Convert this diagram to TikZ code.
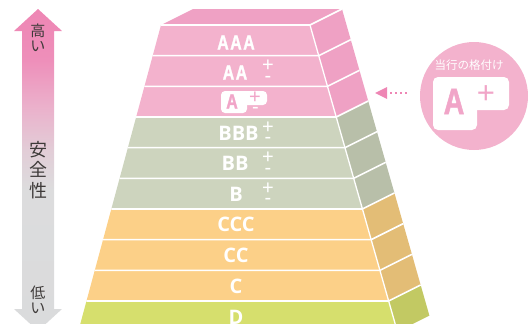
\documentclass[tikz,border=0pt]{standalone}
\usepackage{fontspec}
\setmainfont{Open Sans}
\newfontfamily\condfont[FakeStretch=0.78,FakeBold=1.2,LetterSpace=7]{Liberation Sans}
\newfontfamily\rowfont{Open Sans}
\newfontfamily\jpfont{Noto Sans CJK JP}
\newfontfamily\pmfont{Liberation Sans}
\usetikzlibrary{arrows.meta}
\definecolor{pinkF}{HTML}{F3B2CD}
\definecolor{pinkS}{HTML}{EFA1C4}
\definecolor{greenF}{HTML}{CDD4BE}
\definecolor{greenS}{HTML}{B8BFA9}
\definecolor{orangeF}{HTML}{FCD088}
\definecolor{orangeS}{HTML}{E3BD76}
\definecolor{limeF}{HTML}{D6DF6D}
\definecolor{limeS}{HTML}{C2C963}
\definecolor{arrowpink}{HTML}{EE86B4}
\definecolor{badgepink}{HTML}{F1A5C8}
\definecolor{jptext}{HTML}{3E3A39}
\definecolor{c1}{HTML}{EE86B4}
\definecolor{c2}{HTML}{EE8FBA}
\definecolor{c3}{HTML}{EBB0CB}
\definecolor{c4}{HTML}{E2CDD7}
\definecolor{c5}{HTML}{DCDCDD}
\definecolor{c6}{HTML}{DADBDC}
\pgfdeclareverticalshading{safety}{100bp}{color(0bp)=(c6); color(25bp)=(c6); color(47bp)=(c5); color(53bp)=(c4); color(60bp)=(c3); color(67bp)=(c2); color(75bp)=(c1); color(100bp)=(c1)}
\tikzset{
  pinklbl/.style={text=white, font=\condfont\bfseries\fontsize{20.5}{20.5}\selectfont, inner sep=0pt},
  rowlbl/.style={text=white, font=\rowfont\bfseries\fontsize{20}{20}\selectfont, inner sep=0pt},
  pmlbl/.style={text=white, font=\pmfont\fontsize{20}{20}\selectfont, inner sep=0pt},
  jplbl/.style={text=jptext, align=center, inner sep=0pt},
  sep/.style={white, line width=1.6pt},
}
\begin{document}
\begin{tikzpicture}[x=1pt,y=-1pt]
\useasboundingbox (0,0) rectangle (531,324);
\clip (0,0) rectangle (531,324);
% top face
\fill[pinkS] (161,25) -- (193,9) -- (342,9) -- (310,25) -- cycle;
% rows
\foreach \i/\fc/\sc in {0/pinkF/pinkS,1/pinkF/pinkS,2/pinkF/pinkS,3/greenF/greenS,4/greenF/greenS,5/greenF/greenS,6/orangeF/orangeS,7/orangeF/orangeS,8/orangeF/orangeS,9/limeF/limeS}{
  \pgfmathsetmacro\ya{25+30.667*\i}
  \pgfmathsetmacro\yb{25+30.667*(\i+1)}
  \pgfmathsetmacro\la{161-0.27*(\ya-25)}
  \pgfmathsetmacro\lb{161-0.27*(\yb-25)}
  \pgfmathsetmacro\ra{310+0.285*(\ya-25)}
  \pgfmathsetmacro\rb{310+0.285*(\yb-25)}
  \fill[\fc] (\la,\ya) -- (\ra,\ya) -- (\rb,\yb) -- (\lb,\yb) -- cycle;
  \fill[\sc] (\ra,\ya) -- (\ra+32,\ya-16) -- (\rb+32,\yb-16) -- (\rb,\yb) -- cycle;
}
\foreach \i in {0,...,9}{
  \pgfmathsetmacro\ya{25+30.667*\i}
  \pgfmathsetmacro\la{161-0.27*(\ya-25)}
  \pgfmathsetmacro\ra{310+0.285*(\ya-25)}
  \draw[sep] (\la,\ya) -- (\ra,\ya) -- (\ra+32,\ya-16);
}
\draw[white, line width=1.3pt] (310,25) -- (397.4,331.67);
% row labels
\node[pinklbl] (lAAA) at (236,42.5) {AAA};
\node[pinklbl] (lAA) at (235,72.5) {AA};
\node[rowlbl] (lBBB) at (238.5,133) {BBB};
\node[rowlbl] (lBB) at (235,163.5) {BB};
\node[rowlbl] (lB) at (236,194) {B};
\node[rowlbl] (lCCC) at (236,224.8) {CCC};
\node[rowlbl] (lCC) at (236,255.5) {CC};
\node[rowlbl] (lC) at (236,286) {C};
\node[rowlbl] (lD) at (236,317) {D};
% plus / minus
\foreach \nm/\yt in {aa/55.67,bbb/117,bb/147.67,b/178.33}{
  \node[pmlbl] (p\nm) at (268,\yt+10.5) {+};
  \node[pmlbl] (m\nm) at (268,\yt+23.5) {-};
}
% A badge in row
\fill[white, rounded corners=4pt] (221,91) rectangle (247,113);
\fill[white, rounded corners=4pt] (238,91) rectangle (267,105);
\node[pinklbl, text=badgepink] (lA) at (232,101.5) {A};
\node[pmlbl, text=badgepink] (pa) at (255,97.5) {+};
\node[pmlbl] (ma) at (255.5,110.5) {-};
% rating circle
\node[circle, fill=pinkF, minimum size=108pt, inner sep=0pt] (rating) at (474,96) {};
\node[text=white, font=\jpfont\fontsize{11.5}{12}\selectfont, inner sep=0pt] (ratinglbl) at (469,65) {当行の格付け};
\fill[white, rounded corners=5pt] (433,77) rectangle (477,130);
\fill[white, rounded corners=5pt] (460,77) rectangle (509,110);
\node[text=badgepink, font=\condfont\bfseries\fontsize{37}{37}\selectfont, inner sep=0pt] (bigA) at (454,101.5) {A};
\node[text=badgepink, font=\pmfont\fontsize{31}{31}\selectfont, inner sep=0pt] (bigplus) at (486,95) {+};
% pointer arrow
\coordinate (dotstart) at (406.5,93);
\coordinate (arrowtip) at (375,93);
\draw[arrowpink, line width=2pt, dash pattern=on 2pt off 3pt, -{Triangle[length=12pt,width=12pt,line width=0pt]}] (dotstart) -- (arrowtip);
% safety arrow
\shade[shading=safety] (22,31) -- (14,31) -- (38,9) -- (62,31) -- (54,31) -- (54,309) -- (62,309) -- (38,331) -- (14,309) -- (22,309) -- cycle;
\node[jplbl, font=\jpfont\fontsize{15}{15.5}\selectfont] (high) at (38,38) {高\\い};
\node[jplbl, font=\jpfont\fontsize{18}{20.5}\selectfont] (safety) at (38,170) {安\\全\\性};
\node[jplbl, font=\jpfont\fontsize{15}{15.5}\selectfont] (low) at (38,300) {低\\い};
\end{tikzpicture}
\end{document}
